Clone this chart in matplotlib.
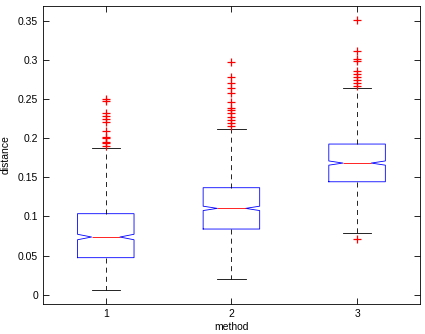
import matplotlib
matplotlib.use("Agg")
import matplotlib.pyplot as plt
from matplotlib.ticker import FuncFormatter

plt.rcParams["font.family"] = ["Liberation Sans", "DejaVu Sans"]

# box statistics, one entry per method
methods = [1, 2, 3]
medians = [0.0737, 0.1103, 0.1682]
q1 = [0.0473, 0.0839, 0.1443]
q3 = [0.1035, 0.1367, 0.1925]
whisker_lo = [0.0056, 0.0197, 0.0784]
whisker_hi = [0.1877, 0.2116, 0.2640]
notch_half = [0.0035, 0.0028, 0.0027]

fliers_1 = [0.2499, 0.2478, 0.2317, 0.2282, 0.2240, 0.2210, 0.2090,
            0.2018, 0.1998, 0.1954, 0.1934, 0.1903]
fliers_2 = [0.2968, 0.2777, 0.2708, 0.2644, 0.2580, 0.2461, 0.2381,
            0.2359, 0.2317, 0.2273, 0.2231, 0.2189, 0.2155]
fliers_3 = [0.3508, 0.3116, 0.3006, 0.2985, 0.2861, 0.2819, 0.2776,
            0.2742, 0.2700, 0.2665, 0.0708]
fliers = [fliers_1, fliers_2, fliers_3]

stats = []
for i in range(len(methods)):
    stats.append({
        "med": medians[i], "q1": q1[i], "q3": q3[i],
        "whislo": whisker_lo[i], "whishi": whisker_hi[i],
        "cilo": medians[i] - notch_half[i], "cihi": medians[i] + notch_half[i],
        "fliers": [],
    })

fig = plt.figure(figsize=(4.25, 3.34), dpi=100)
ax = fig.add_axes([0.101, 0.0898, 0.887, 0.892])

ax.bxp(stats, positions=methods, widths=0.45, shownotches=True,
       boxprops=dict(color="#0000ff", linewidth=0.6),
       medianprops=dict(color="#ff0000", linewidth=0.6),
       whiskerprops=dict(color="black", linewidth=0.6, linestyle=(0, (6, 5))),
       capprops=dict(color="black", linewidth=0.6))

# outliers drawn on top as red plus signs
for m, f in zip(methods, fliers):
    ax.plot([m] * len(f), f, linestyle="none", marker="+", color="red",
            markersize=6, markeredgewidth=0.9, zorder=5)

ax.set_xlim(0.5, 3.5)
ax.set_ylim(-0.0119, 0.3688)
ax.set_xticks(methods)
ax.set_xticklabels([str(m) for m in methods])
ax.set_yticks([0, 0.05, 0.1, 0.15, 0.2, 0.25, 0.3, 0.35])
ax.yaxis.set_major_formatter(FuncFormatter(lambda v, p: "%g" % v))
ax.tick_params(direction="in", length=4, width=0.6, labelsize=7.5,
               top=True, right=True, colors="black")
for s in ax.spines.values():
    s.set_linewidth(0.6)

ax.set_xlabel("method", fontsize=7.5, labelpad=2)
ax.set_ylabel("distance", fontsize=7.5, labelpad=5)

fig.savefig("out.png", dpi=100)
